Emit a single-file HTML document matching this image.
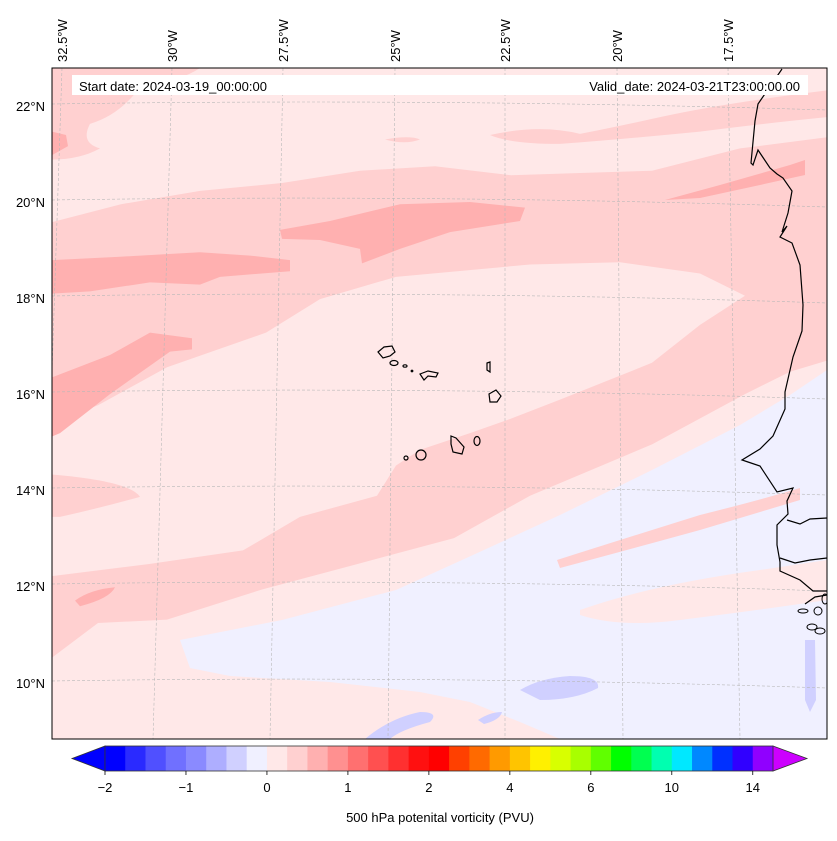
<!DOCTYPE html>
<html><head><meta charset="utf-8">
<style>
html,body{margin:0;padding:0;background:#fff;}
svg text{font-family:"Liberation Sans","DejaVu Sans",sans-serif;font-size:13px;fill:#000;}
</style></head>
<body>
<svg id="fig" width="837" height="836" viewBox="0 0 837 836" xmlns="http://www.w3.org/2000/svg">
<defs><clipPath id="mapclip"><rect x="52" y="68" width="775" height="671"/></clipPath></defs>
<g clip-path="url(#mapclip)">
  <rect x="52" y="68" width="775" height="671" fill="#ffe8e8"/>
  <g transform="translate(0,68) scale(1,1.1167) translate(0,-68)">
    <path fill="#ffd0d0" d="M52,206 L121,190 L200,178 L282,171 L360,160 L435,156 L511,164 L580,162 L652,160 L740,140 L827,130 L827,330 L790,340 L745,360 L652,405 L530,451 L454,489 L358,512 L262,535 L167,562 L98,565 L52,596 Z"/>
    <path fill="#ffe8e8" d="M52,386 L98,370 L167,336 L266,305 L320,275 L396,255 L530,244 L620,242 L700,252 L745,272 L700,298 L652,332 L560,365 L511,382 L470,395 L420,410 L396,424 L377,451 L300,470 L243,500 L150,512 L52,523 Z"/>
    <path fill="#ffd0d0" d="M52,432 Q130,438 140,452 Q100,462 60,470 L52,470 Z"/>
    <path fill="#ffd0d0" d="M52,68 L200,68 Q180,80 140,85 Q120,110 90,118 Q80,135 100,140 Q80,150 52,150 Z"/>
    <path fill="#ffd0d0" d="M490,128 Q540,118 580,127 Q620,120 660,112 Q720,100 827,88 L827,112 Q760,118 700,125 Q620,132 560,136 Q510,136 490,128 Z"/>
    <path fill="#ffd0d0" d="M385,132 Q410,128 420,132 Q405,137 385,132 Z"/>
    <path fill="#ffb0b0" d="M52,240 L120,237 L200,233 L250,236 L290,240 L290,250 L220,255 L200,262 L150,260 L90,268 L52,270 Z"/>
    <path fill="#ffb0b0" d="M280,213 L330,205 L400,190 L470,188 L525,193 L520,205 L450,215 L400,230 L362,243 L360,230 L320,222 L282,221 Z"/>
    <path fill="#ffb0b0" d="M52,345 L110,325 L150,305 L192,310 L192,320 L170,322 L110,360 L60,395 L52,398 Z"/>
    <path fill="#ffb0b0" d="M75,545 Q90,535 115,533 Q110,543 80,550 Z"/>
    <path fill="#ffb0b0" d="M52,125 L66,128 L68,138 L52,146 Z"/>
  </g>
  <path fill="#f0f0ff" d="M180,640 L282,620 L396,590 L473,555 L560,515 L652,470 L740,425 L790,395 L827,370 L827,739 L560,739 L520,722 L470,702 L420,692 L330,682 L230,676 L190,668 Z"/>
  <path fill="#ffd0d0" d="M557,560 Q620,540 700,515 Q760,500 800,488 L800,500 Q760,512 700,530 Q620,552 560,568 Z"/>
  <path fill="#ffe8e8" d="M580,610 Q650,585 760,570 L827,560 L827,600 Q760,610 680,620 Q620,628 580,615 Z"/>
  <path fill="#d0d0ff" d="M520,690 Q540,678 570,676 Q600,676 598,688 Q575,700 540,700 Z"/>
  <path fill="#d0d0ff" d="M365,739 Q390,718 420,712 Q440,712 430,722 Q400,730 390,739 Z"/>
  <path fill="#d0d0ff" d="M478,720 Q490,712 502,712 Q500,720 484,724 Z"/>
  <path fill="#d0d0ff" d="M805,640 L815,640 L816,700 L810,712 L805,700 Z"/>
  <path fill="#ffb0b0" d="M665,200 L720,185 L790,165 L805,160 L805,175 L760,185 L700,198 Z"/>
  <g stroke="#b8b8b8" stroke-width="0.6" stroke-dasharray="3,2" fill="none">
    <path d="M62,68 L40,739"/><path d="M172,68 L153,739"/><path d="M283,68 L270,739"/><path d="M395,68 L388,739"/><path d="M505,68 L505,739"/><path d="M617,68 L623,739"/><path d="M728,68 L740,739"/>
    <path d="M52,104 Q440,98 827,110"/><path d="M52,200 Q440,194 827,207"/><path d="M52,296 Q440,290 827,303"/><path d="M52,392 Q440,386 827,399"/><path d="M52,488 Q440,482 827,495"/><path d="M52,584 Q440,578 827,591"/><path d="M52,681 Q440,675 827,688"/>
  </g>
  <path fill="none" stroke="#000" stroke-width="1.2" d="M782,69 L758,104 L755,121 L751,163 L753,165 L758,150 L770,168 L777,174 L783,178 L792,191 L788,213 L782,232 L787,226 L780,237 L792,243 L800,265 L803,305 L802,331 L793,357 L785,392 L785,409 L773,436 L760,449 L742,460 L748,462 L760,466 L777,492 L793,488 L787,501 L788,514 L777,525 L777,545 L780,562 L780,571 L800,580 L813,591 L827,591"/>
  <path fill="none" stroke="#000" stroke-width="1.2" d="M787,520 L800,524 L810,519 L827,518 M780,558 L795,563 L810,560 L827,558 M805,604 L815,597 L827,595"/>
  <g fill="none" stroke="#000" stroke-width="1">
    <ellipse cx="803" cy="611" rx="5" ry="2"/><ellipse cx="818" cy="611" rx="4" ry="4"/><ellipse cx="812" cy="627" rx="5" ry="3"/><ellipse cx="820" cy="631" rx="5" ry="3"/><ellipse cx="825" cy="599" rx="3" ry="5"/>
  </g>
  <g fill="none" stroke="#000" stroke-width="1.2">
    <path d="M378,352 L384,347 L392,346 L395,352 L390,356 L383,358 Z"/>
    <ellipse cx="394" cy="363" rx="4" ry="2.5"/>
    <ellipse cx="405" cy="366" rx="2" ry="1.2"/><circle cx="412" cy="371" r="0.8"/>
    <path d="M420,374 L428,371 L438,373 L436,377 L428,376 L424,380 Z"/>
    <path d="M487,363 L490,362 L490,372 L487,370 Z"/>
    <path d="M489,394 L496,390 L501,396 L497,402 L490,402 Z"/>
    <path d="M451,436 L456,438 L464,447 L462,454 L453,452 L451,444 Z"/>
    <ellipse cx="477" cy="441" rx="3" ry="4.5"/>
    <ellipse cx="421" cy="455" rx="5" ry="5"/>
    <circle cx="406" cy="458" r="2"/>
  </g>
  <rect x="72" y="75" width="736" height="20" fill="#fff"/>
  <text x="79" y="91">Start date: 2024-03-19_00:00:00</text>
  <text x="800" y="91" text-anchor="end">Valid_date: 2024-03-21T23:00:00.00</text>
</g>
<rect x="52" y="68" width="775" height="671" fill="none" stroke="#000" stroke-width="1"/>
<g id="lonlabels"></g>
<g id="latlabels"></g>
<g id="cbar"></g>
<text x="440" y="822" text-anchor="middle">500 hPa potenital vorticity (PVU)</text>
</svg>
<script>
const lonLabels = ["32.5°W","30°W","27.5°W","25°W","22.5°W","20°W","17.5°W"];
const lonX = [62,172,283,395,505,617,728];
const latLabels = ["22°N","20°N","18°N","16°N","14°N","12°N","10°N"];
const latY = [106,202,298,394,490,586,683];
const cbarColors = ["#0000ff","#2a2aff","#5050ff","#7070ff","#8a8aff","#aeaeff","#d0d0ff","#f0f0ff","#ffe8e8","#ffd0d0","#ffb0b0","#ff9090","#ff7070","#ff5050","#ff3030","#ff1010","#ff0000","#ff4000","#ff6a00","#ff9a00","#ffc400","#fff000","#d8ff00","#a8ff00","#60ff00","#00ff00","#00ff50","#00ffb0","#00e8ff","#0088ff","#0030ff","#3000ff","#9000ff"];
const cbarTickLabels = ["\u22122","\u22121","0","1","2","4","6","10","14"];
const cbarTickIndex = [0,4,8,12,16,20,24,28,32];
const NS="http://www.w3.org/2000/svg";
function mk(tag,attrs,parent){const e=document.createElementNS(NS,tag);for(const k in attrs)e.setAttribute(k,attrs[k]);parent.appendChild(e);return e;}
const lonG=document.getElementById('lonlabels');
lonLabels.forEach((l,i)=>{
  const t=mk('text',{x:0,y:0,transform:`translate(${lonX[i]+5},62) rotate(-90)`},lonG);
  
  
  t.textContent=l;
});
const latG=document.getElementById('latlabels');
latLabels.forEach((l,i)=>{
  const t=mk('text',{x:45,y:latY[i]+5,'text-anchor':'end'},latG);
  
  
  t.textContent=l;
});
const cb=document.getElementById('cbar');
const x0=105,x1=773,y0=746,y1=771,n=cbarColors.length,w=(x1-x0)/n;
function cx(i){return x0+i*w;}
const lt=mk('path',{d:`M${x0},${y0} L72,${(y0+y1)/2} L${x0},${y1} Z`,fill:'#0000ff',stroke:'#333','stroke-width':0.8},cb);


const rt=mk('path',{d:`M${x1},${y0} L807,${(y0+y1)/2} L${x1},${y1} Z`,fill:'#cc00ff',stroke:'#333','stroke-width':0.8},cb);


cbarColors.forEach((c,i)=>{
  const r=mk('rect',{x:cx(i),y:y0,width:w+0.5,height:y1-y0,fill:c},cb);
  
  
});
const fr=mk('rect',{x:x0,y:y0,width:x1-x0,height:y1-y0,fill:'none',stroke:'#333','stroke-width':0.8},cb);


cbarTickLabels.forEach((l,i)=>{
  const x=cx(cbarTickIndex[i]);
  const tk=mk('line',{x1:x,x2:x,y1:y1,y2:y1+4,stroke:'#000','stroke-width':0.8},cb);
  
  
  const t=mk('text',{x:x,y:792,'text-anchor':'middle'},cb);
  
  
  t.textContent=l;
});
</script>
</body></html>
